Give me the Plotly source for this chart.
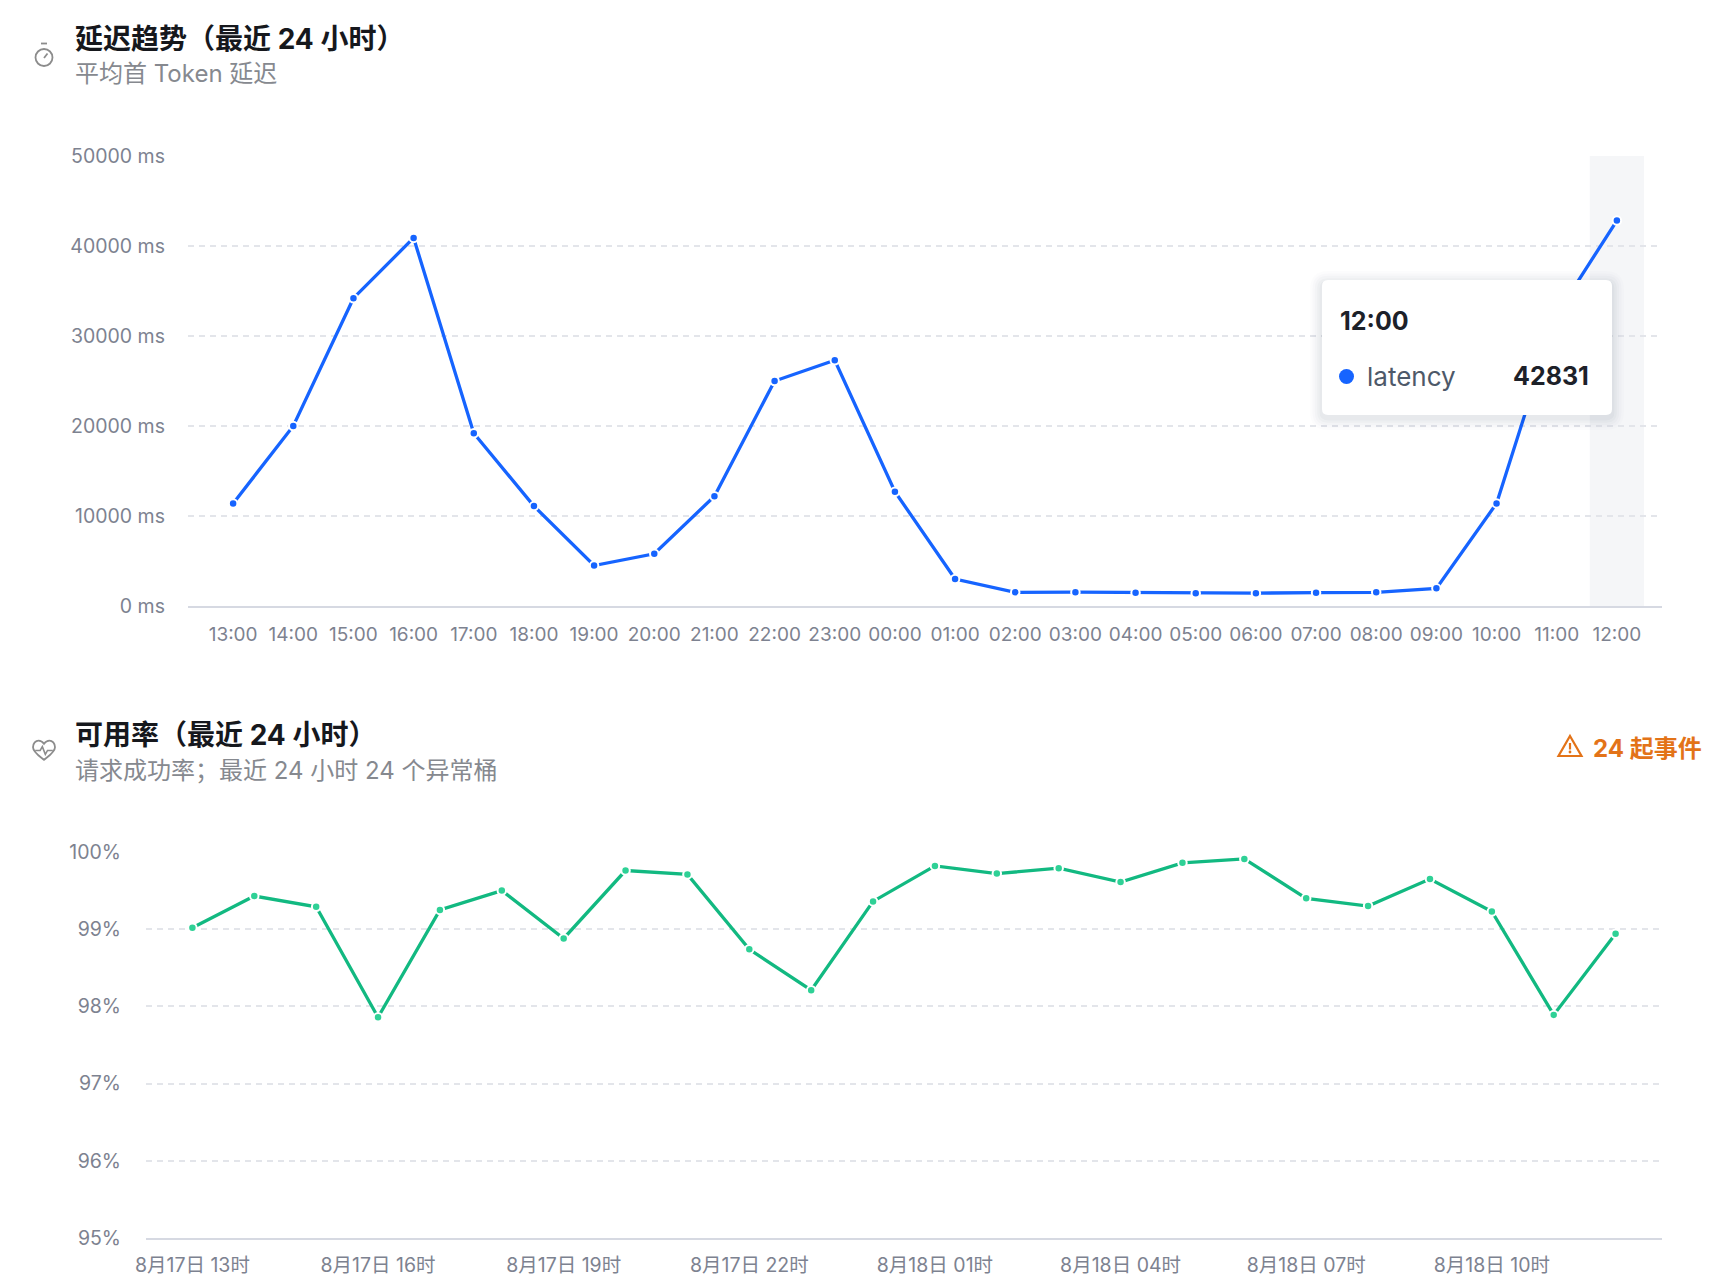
import pandas as pd
import plotly.graph_objects as go

W, H = 1730, 1288

# ---- data -------------------------------------------------------------
hours = ["13:00", "14:00", "15:00", "16:00", "17:00", "18:00", "19:00", "20:00",
         "21:00", "22:00", "23:00", "00:00", "01:00", "02:00", "03:00", "04:00",
         "05:00", "06:00", "07:00", "08:00", "09:00", "10:00", "11:00", "12:00"]
latency = [11400, 20000, 34200, 40900, 19200, 11100, 4500, 5800,
           12200, 25000, 27300, 12700, 3000, 1520, 1540, 1480,
           1410, 1430, 1480, 1520, 1960, 11400, 32400, 42831]
latency_ticks = [0, 10000, 20000, 30000, 40000, 50000]

times = pd.date_range("2025-08-17 13:00", periods=24, freq="h")
availability = [99.02, 99.43, 99.29, 97.86, 99.25, 99.50, 98.88, 99.76,
                99.71, 98.74, 98.21, 99.36, 99.82, 99.72, 99.79, 99.61,
                99.86, 99.91, 99.40, 99.30, 99.65, 99.23, 97.89, 98.94]
avail_yticks = [95, 96, 97, 98, 99, 100]
avail_ticks = ["2025-08-17 13:00", "2025-08-17 16:00", "2025-08-17 19:00", "2025-08-17 22:00",
               "2025-08-18 01:00", "2025-08-18 04:00", "2025-08-18 07:00", "2025-08-18 10:00"]
avail_ticktext = ["8月17日 13时", "8月17日 16时", "8月17日 19时", "8月17日 22时",
                  "8月18日 01时", "8月18日 04时", "8月18日 07时", "8月18日 10时"]
incident_count = 24

BLUE = "#1664ff"
GREEN = "#12b981"
GREEN_DOT = "#2fd196"
GRID = "#e3e5ea"
AXIS = "#d6d9e2"
TICK = "#7d8290"
FONT = "Inter, Noto Sans CJK SC, sans-serif"


def px(x):
    return x / W


def py(y):
    return 1 - y / H


def path_px(pts_cmds):
    # list of (cmd, [(x,y),...]) in pixel coords -> paper path
    out = []
    for cmd, pts in pts_cmds:
        s = " ".join(f"{px(x):.5f},{py(y):.5f}" for x, y in pts)
        out.append(f"{cmd} {s}" if pts else cmd)
    return " ".join(out)


def rrect(x0, y0, x1, y1, r):
    return path_px([
        ("M", [(x0 + r, y0)]), ("L", [(x1 - r, y0)]), ("Q", [(x1, y0), (x1, y0 + r)]),
        ("L", [(x1, y1 - r)]), ("Q", [(x1, y1), (x1 - r, y1)]),
        ("L", [(x0 + r, y1)]), ("Q", [(x0, y1), (x0, y1 - r)]),
        ("L", [(x0, y0 + r)]), ("Q", [(x0, y0), (x0 + r, y0)]), ("Z", []),
    ])


fig = go.Figure()

fig.add_trace(go.Scatter(
    x=hours, y=latency, mode="lines+markers", xaxis="x", yaxis="y",
    line=dict(color=BLUE, width=3.3),
    marker=dict(size=8.5, color=BLUE, line=dict(color="white", width=2)),
    hoverinfo="skip",
))
fig.add_trace(go.Scatter(
    x=times, y=availability, mode="lines+markers", xaxis="x2", yaxis="y2",
    line=dict(color=GREEN, width=3.3),
    marker=dict(size=8.5, color=GREEN_DOT, line=dict(color="white", width=2)),
    hoverinfo="skip",
))

tickfont = dict(family=FONT, size=19.5, color=TICK)

fig.update_layout(
    width=W, height=H,
    margin=dict(l=0, r=0, t=0, b=0, autoexpand=False),
    paper_bgcolor="white", plot_bgcolor="white",
    showlegend=False,
    font=dict(family=FONT),
    xaxis=dict(
        domain=[px(188), px(1662)], anchor="y", type="category",
        range=[-0.75, 23.75], showgrid=False, zeroline=False,
        showline=True, linecolor=AXIS, linewidth=2,
        tickfont=dict(family=FONT, size=19, color=TICK), ticklabelstandoff=10, fixedrange=True,
    ),
    yaxis=dict(
        domain=[py(606), py(156)], anchor="x", range=[0, 50000],
        tickvals=latency_ticks, ticktext=[f"{v} ms" for v in latency_ticks],
        showgrid=True, gridcolor=GRID, griddash="6px,5px",
        gridwidth=1.5, zeroline=False, showline=False,
        tickfont=tickfont, ticklabelstandoff=22, fixedrange=True,
    ),
    xaxis2=dict(
        domain=[px(146), px(1662)], anchor="y2", type="date",
        range=["2025-08-17 12:15", "2025-08-18 12:45"],
        tickvals=avail_ticks, ticktext=avail_ticktext,
        showgrid=False, zeroline=False, showline=True, linecolor=AXIS, linewidth=2,
        tickfont=dict(family=FONT, size=19.5, color=TICK), ticklabelstandoff=9,
        fixedrange=True,
    ),
    yaxis2=dict(
        domain=[py(1238), py(852)], anchor="x2", range=[95, 100],
        tickvals=avail_yticks, ticktext=[f"{v}%" for v in avail_yticks],
        showgrid=True, gridcolor=GRID, griddash="6px,5px", gridwidth=1.5,
        zeroline=False, showline=False,
        tickfont=tickfont, ticklabelstandoff=24, fixedrange=True,
    ),
)

shapes = []
# hover band on the last category
shapes.append(dict(type="rect", xref="x", yref="y domain", x0=22.55, x1=23.45, y0=0, y1=1,
                   fillcolor="#f5f6f8", line=dict(width=0), layer="below"))

# tooltip box with soft shadow
tx0, ty0, tx1, ty1 = 1322, 280, 1612, 415
for i, a in enumerate([0.010, 0.014, 0.018, 0.022, 0.028]):
    g = 12 - i * 2.4
    shapes.append(dict(type="path", xref="paper", yref="paper",
                       path=rrect(tx0 - g, ty0 - g + 3, tx1 + g, ty1 + g + 3, 6 + g),
                       fillcolor=f"rgba(20,30,60,{a})", line=dict(width=0), layer="above"))
shapes.append(dict(type="path", xref="paper", yref="paper", path=rrect(tx0, ty0, tx1, ty1, 6),
                   fillcolor="white", line=dict(width=0), layer="above"))
shapes.append(dict(type="circle", xref="paper", yref="paper",
                   x0=px(1339), x1=px(1354), y0=py(384), y1=py(369),
                   fillcolor=BLUE, line=dict(width=0), layer="above"))

# stopwatch icon
ICON = "#8c8c8c"
shapes.append(dict(type="circle", xref="paper", yref="paper",
                   x0=px(35.5), x1=px(52.5), y0=py(66), y1=py(49),
                   line=dict(color=ICON, width=1.8)))
shapes.append(dict(type="line", xref="paper", yref="paper",
                   x0=px(41), x1=px(47), y0=py(43.5), y1=py(43.5), line=dict(color=ICON, width=1.8)))
shapes.append(dict(type="line", xref="paper", yref="paper",
                   x0=px(44), x1=px(47.5), y0=py(58), y1=py(53.5), line=dict(color=ICON, width=1.8)))

# heart / pulse icon
hx, hy, s = 44, 751, 1.1
heart = [(-0.0, 8), (-3, 5.5), (-10, 1), (-10, -3.5), (-10, -7), (-7.5, -9.5), (-5, -9.5),
         (-2.5, -9.5), (-1, -8), (0, -6.5), (1, -8), (2.5, -9.5), (5, -9.5),
         (7.5, -9.5), (10, -7), (10, -3.5), (10, 1), (3, 5.5), (0, 8)]
hp = [(hx + x * s, hy + y * s) for x, y in heart]
heart_path = path_px([("M", [hp[0]]), ("C", hp[1:4]), ("C", hp[4:7]), ("C", hp[7:10]),
                      ("C", hp[10:13]), ("C", hp[13:16]), ("C", hp[16:19]), ("Z", [])])
shapes.append(dict(type="path", xref="paper", yref="paper", path=heart_path,
                   line=dict(color=ICON, width=1.8)))
pulse = [(-8, -0.5), (-3.5, -0.5), (-1.5, -4), (1.2, 3), (3.2, -0.5), (8, -0.5)]
pp = [(hx + x * s, hy + y * s) for x, y in pulse]
shapes.append(dict(type="path", xref="paper", yref="paper",
                   path=path_px([("M", [pp[0]])] + [("L", [p]) for p in pp[1:]]),
                   line=dict(color=ICON, width=1.6)))

# warning triangle
ORANGE = "#e37318"
wx, wy = 1570, 747
shapes.append(dict(type="path", xref="paper", yref="paper",
                   path=path_px([("M", [(wx, wy - 11)]), ("L", [(wx + 11.5, wy + 9)]),
                                  ("L", [(wx - 11.5, wy + 9)]), ("Z", [])]),
                   line=dict(color=ORANGE, width=2.2)))
shapes.append(dict(type="line", xref="paper", yref="paper",
                   x0=px(wx), x1=px(wx), y0=py(wy - 4), y1=py(wy + 2.5), line=dict(color=ORANGE, width=2.2)))
shapes.append(dict(type="circle", xref="paper", yref="paper",
                   x0=px(wx - 1.4), x1=px(wx + 1.4), y0=py(wy + 6.4), y1=py(wy + 3.6),
                   fillcolor=ORANGE, line=dict(width=0)))

fig.update_layout(shapes=shapes)

TITLE = "#16181d"
SUB = "#86898f"
ann = []


def text(x, y, t, size, color, anchor="left", bold=False):
    ann.append(dict(x=px(x), y=py(y), xref="paper", yref="paper", xanchor=anchor, yanchor="middle",
                    text=f"<b>{t}</b>" if bold else t, showarrow=False,
                    font=dict(family=FONT, size=size, color=color)))


text(73, 39, "延迟趋势（最近 24 小时）", 28, TITLE, bold=True)
text(73, 74, "平均首 Token 延迟", 24, SUB)
text(73, 735, "可用率（最近 24 小时）", 28, TITLE, bold=True)
text(73, 770, "请求成功率；最近 24 小时 24 个异常桶", 24, SUB)
text(1591, 748, f"{incident_count} 起事件", 24, ORANGE, bold=True)

# tooltip content
text(1338, 321, hours[-1], 25, "#1d2129", bold=True)
text(1365, 376, "latency", 26, "#4e5969")
text(1591, 376, str(latency[-1]), 25, "#1d2129", anchor="right", bold=True)

fig.update_layout(annotations=ann)

fig.write_html("out.html", config={"displayModeBar": False},
               post_script="document.body.style.margin='0';document.body.style.overflow='hidden';")
